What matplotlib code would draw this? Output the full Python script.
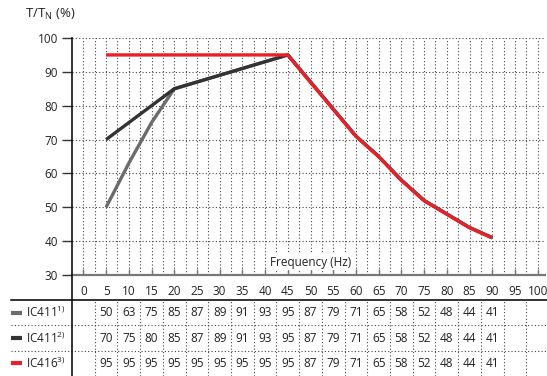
import matplotlib.pyplot as plt
import matplotlib.transforms as mtransforms
from matplotlib.lines import Line2D
import numpy as np

plt.rcParams['font.family'] = ['Open Sans', 'DejaVu Sans']
plt.rcParams['mathtext.fontset'] = 'custom'
plt.rcParams['mathtext.rm'] = 'Open Sans'

freq = [5, 10, 15, 20, 25, 30, 35, 40, 45, 50, 55, 60, 65, 70, 75, 80, 85, 90]
ic411_1 = [50, 63, 75, 85, 87, 89, 91, 93, 95, 87, 79, 71, 65, 58, 52, 48, 44, 41]
ic411_2 = [70, 75, 80, 85, 87, 89, 91, 93, 95, 87, 79, 71, 65, 58, 52, 48, 44, 41]
ic416 = [95, 95, 95, 95, 95, 95, 95, 95, 95, 87, 79, 71, 65, 58, 52, 48, 44, 41]

series = [
    ('IC411', '1)', ic411_1, '#6b6b6b'),
    ('IC411', '2)', ic411_2, '#333333'),
    ('IC416', '3)', ic416, '#e8202a'),
]
x_ticks = list(range(0, 101, 5))
y_ticks = list(range(30, 101, 10))

W, H = 547, 376
fig = plt.figure(figsize=(W / 100, H / 100), dpi=100)

def px(x0, y0, x1, y1):
    return [x0 / W, 1 - y1 / H, (x1 - x0) / W, (y1 - y0) / H]

XLIM = (-2.5, 101.6)
dot = (0, (1, 2))

# ---- chart ----
ax = fig.add_axes(px(72, 38, 545, 275))
for name, sup, vals, col in series:
    ax.plot(freq, vals, color=col, lw=2.4, solid_capstyle='butt', zorder=3)
ax.set_xlim(*XLIM)
ax.set_ylim(30, 100)
ax.set_xticks(x_ticks)
ax.set_xticks(np.arange(2.5, 100, 5), minor=True)
ax.set_yticks(y_ticks)
ax.grid(True, which='both', axis='x', color='#444444', lw=0.8, linestyle=dot)
ax.grid(True, which='major', axis='y', color='#444444', lw=0.8, linestyle=dot)
ax.tick_params(axis='x', which='major', direction='in', length=4, width=1,
               color='#777777', pad=7, labelsize=8.5, labelcolor='#222222')
ax.tick_params(axis='x', which='minor', length=0)
ax.tick_params(axis='y', direction='out', length=7, width=1, color='#333333',
               pad=3, labelsize=8.5, labelcolor='#222222')
for s in ['top', 'right', 'left']:
    ax.spines[s].set_visible(False)
ax.spines['bottom'].set_color('#777777')
ax.spines['bottom'].set_linewidth(1.6)
ax.text(50, 33.8, 'Frequency (Hz)', ha='center', va='center', fontsize=8.5, color='#222222',
        bbox=dict(facecolor='white', edgecolor='none', pad=1), zorder=4)
fig.text(25 / W, 1 - 14 / H, r'T/T$_{\mathregular{N}}$ (%)', ha='left', va='center',
         fontsize=9.5, color='#222222')

# ---- table ----
tx = fig.add_axes(px(72, 300, 545, 376))
tx.set_xlim(*XLIM)
tx.set_ylim(3, 0)
tx.set_xticks(np.arange(2.5, 100, 5), minor=True)
tx.set_xticks([])
tx.grid(True, which='minor', axis='x', color='#444444', lw=0.8, linestyle=dot)
tx.tick_params(which='both', length=0, labelbottom=False, labelleft=False)
for s in tx.spines.values():
    s.set_visible(False)

trans = mtransforms.blended_transform_factory(fig.transFigure, tx.transData)
for i, (name, sup, vals, col) in enumerate(series):
    yc = i + 0.5
    for f, v in zip(freq, vals):
        tx.text(f, yc, str(v), ha='center', va='center', fontsize=8.5, color='#222222')
    tx.add_line(Line2D([11 / W, 22 / W], [yc, yc], transform=trans, color=col,
                       lw=3, solid_capstyle='butt', clip_on=False))
    tx.text(26 / W, yc, name + r'$^{\mathregular{' + sup + '}}$', transform=trans,
            ha='left', va='center', fontsize=8.5, color='#222222')
    if i > 0:
        tx.add_line(Line2D([11 / W, 1], [i, i], transform=trans, color='#444444',
                           lw=0.8, linestyle=dot, clip_on=False))

# black separator lines
fig.add_artist(Line2D([11 / W, 1], [1 - 300 / H, 1 - 300 / H], color='#111111', lw=1.2))
fig.add_artist(Line2D([72 / W, 72 / W], [0, 1 - 38 / H], color='#111111', lw=1.2))

fig.savefig('out.png', dpi=100)
